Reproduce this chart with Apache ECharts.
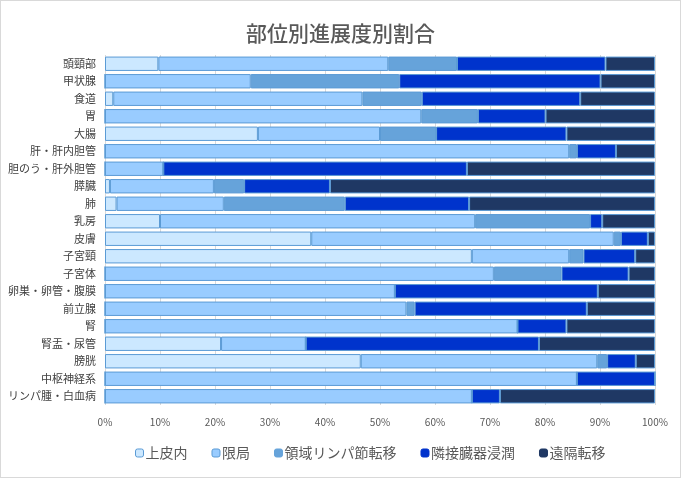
<!DOCTYPE html>
<html><head><meta charset="utf-8">
<script src="https://cdn.jsdelivr.net/npm/echarts@6/dist/echarts.min.js"></script>
<style>html,body{margin:0;padding:0;background:#fff}#c{width:679px;height:476px;border:1px solid #d9d9d9}</style>
</head><body><div id="c"></div>
<script>
var categories = ['頭頸部','甲状腺','食道','胃','大腸','肝・肝内胆管','胆のう・肝外胆管','膵臓','肺','乳房','皮膚','子宮頸','子宮体','卵巣・卵管・腹膜','前立腺','腎','腎盂・尿管','膀胱','中枢神経系','リンパ腫・白血病'];
var seriesNames = ['上皮内','限局','領域リンパ節転移','隣接臓器浸潤','遠隔転移'];
var jouhinai = [9.7,0,1.5,0,27.8,0,0,0.9,2.1,10.0,37.5,66.7,0,0,0,0,21.1,46.5,0,0];
var genkyoku = [41.8,26.5,45.3,57.5,22.2,84.4,10.6,18.9,19.5,57.3,55.0,17.7,70.7,52.7,54.8,75.0,15.4,43.0,85.8,66.7];
var ryoiki = [12.5,27.0,10.8,10.3,10.2,1.4,0,5.5,22.0,20.9,1.3,2.6,12.3,0,1.5,0,0,1.8,0,0];
var rinsetsu = [27.0,36.6,28.8,12.3,23.7,7.1,55.2,15.6,22.6,2.2,4.9,9.4,12.2,36.9,31.3,8.9,42.4,5.2,14.2,5.1];
var enkaku = [9.0,9.9,13.6,19.9,16.1,7.1,34.2,59.1,33.8,9.6,1.3,3.6,4.8,10.4,12.4,16.1,21.1,3.5,0,28.2];
var xTicks = ['0%','10%','20%','30%','40%','50%','60%','70%','80%','90%','100%'];
var colors = ['#CCE8FF','#99CCFF','#66A3DA','#0033CC','#1F3864'];
var data = [jouhinai, genkyoku, ryoiki, rinsetsu, enkaku];
var chart = echarts.init(document.getElementById('c'));
var font = '"Noto Sans CJK JP", sans-serif';
chart.setOption({
  animation:false,
  title:{text:'部位別進展度別割合',left:'center',top:17,textStyle:{fontFamily:font,fontSize:21,fontWeight:500,color:'#595959'}},
  grid:{left:104,right:25,top:54,bottom:72},
  legend:{top:440,left:129,itemWidth:8,itemHeight:8,itemGap:24,textStyle:{fontFamily:font,fontSize:14,color:'#595959',padding:[0,0,0,-3]},
    data:seriesNames.map(function(n,i){return {name:n,itemStyle:{color:colors[i],borderColor:i<2?'#5B9BD5':colors[i],borderWidth:1}};})},
  xAxis:{type:'value',min:0,max:100,interval:10,
    axisLabel:{fontFamily:font,fontSize:10,color:'#595959',margin:12,formatter:function(v){return xTicks[Math.round(v/10)];}},
    splitLine:{lineStyle:{color:'#d9d9d9'}},axisLine:{show:false},axisTick:{show:false}},
  yAxis:{type:'category',inverse:true,data:categories,
    axisLabel:{fontFamily:font,fontSize:11,color:'#404040',margin:9},
    axisLine:{show:false},axisTick:{show:false}},
  series:seriesNames.map(function(n,i){return {name:n,type:'bar',stack:'a',barCategoryGap:'18%',data:data[i],
    itemStyle:{color:colors[i],borderColor:'#5B9BD5',borderWidth:1}};})
});
</script></body></html>
